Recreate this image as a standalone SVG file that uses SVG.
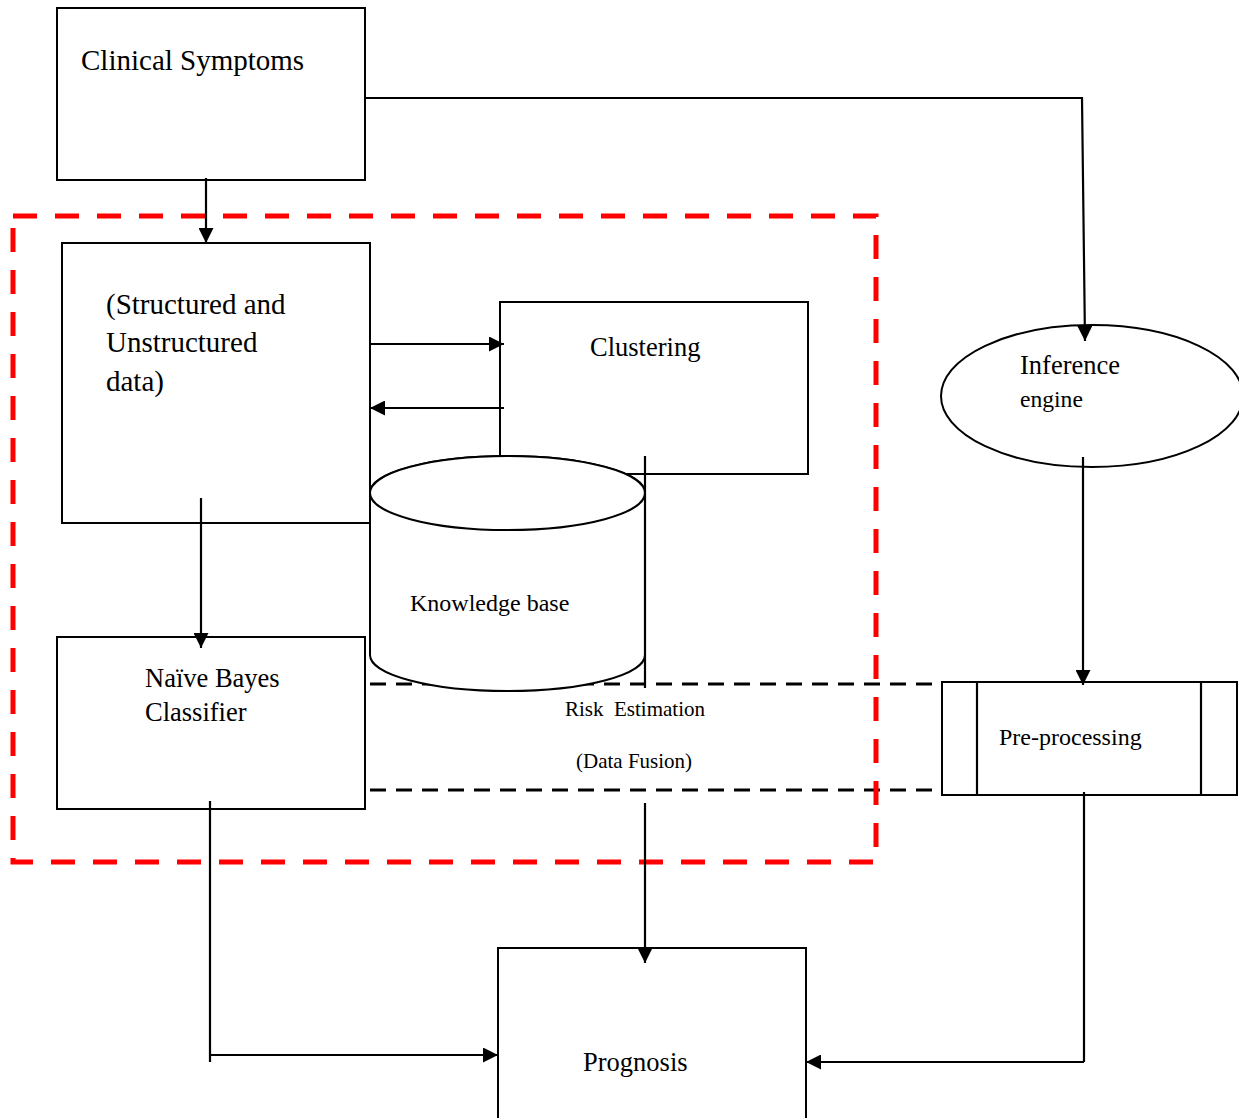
<svg xmlns="http://www.w3.org/2000/svg" width="1239" height="1118" viewBox="0 0 1239 1118">
<style>
.box{fill:#fff;stroke:#000;stroke-width:2}
.ln{fill:none;stroke:#000;stroke-width:2.2}
.t{font-family:"Liberation Serif","Times New Roman",serif;fill:#000;white-space:pre}
.red{fill:none;stroke:#ff0000;stroke-width:5;stroke-dasharray:24 18}
.bd{fill:none;stroke:#000;stroke-width:3;stroke-dasharray:16 10}
</style>
<defs>
<marker id="ah" viewBox="0 0 10 10" refX="10" refY="5" markerWidth="15" markerHeight="15" markerUnits="userSpaceOnUse" orient="auto">
<path d="M0,0 L10,5 L0,10 z" fill="#000"/>
</marker>
</defs>
<rect width="1239" height="1118" fill="#fff"/>

<g id="risk-estimation">
<line class="bd" x1="370" y1="684" x2="942" y2="684"/>
<line class="bd" x1="370" y1="790" x2="942" y2="790"/>
<text class="t" x="565" y="716" font-size="21">Risk  Estimation</text>
<text class="t" x="576" y="768" font-size="21">(Data Fusion)</text>
</g>

<g id="clinical-symptoms">
<rect class="box" x="57" y="8" width="308" height="172"/>
<text class="t" x="81" y="70" font-size="29">Clinical Symptoms</text>
</g>

<g id="structured-data">
<rect class="box" x="62" y="243" width="308" height="280"/>
<text class="t" x="106" y="314" font-size="29">(Structured and</text>
<text class="t" x="106" y="352" font-size="29">Unstructured</text>
<text class="t" x="106" y="391" font-size="29">data)</text>
</g>

<g id="clustering">
<rect class="box" x="500" y="302" width="308" height="172"/>
<text class="t" x="590" y="356" font-size="26.5">Clustering</text>
</g>

<g id="knowledge-base">
<path class="box" d="M370,493 L370,655 A137.5,36 0 0 0 645,655 L645,493 A137.5,37 0 0 0 370,493 Z"/>
<ellipse class="box" cx="507.5" cy="493" rx="137.5" ry="37"/>
<text class="t" x="410" y="611" font-size="24">Knowledge base</text>
</g>

<g id="naive-bayes">
<rect class="box" x="57" y="637" width="308" height="172"/>
<text class="t" x="145" y="687" font-size="26.5">Naïve Bayes</text>
<text class="t" x="145" y="721" font-size="26.5">Classifier</text>
</g>

<g id="inference-engine">
<ellipse class="box" cx="1092" cy="396" rx="151" ry="71"/>
<text class="t" x="1020" y="374" font-size="26.5">Inference</text>
<text class="t" x="1020" y="407" font-size="23.6">engine</text>
</g>

<g id="pre-processing">
<rect class="box" x="942" y="682" width="295" height="113"/>
<line class="ln" x1="977" y1="682" x2="977" y2="795"/>
<line class="ln" x1="1201" y1="682" x2="1201" y2="795"/>
<text class="t" x="999" y="745" font-size="24">Pre-processing</text>
</g>

<g id="prognosis">
<rect class="box" x="498" y="948" width="308" height="180"/>
<text class="t" x="583" y="1071" font-size="26.5">Prognosis</text>
</g>

<g id="boundary">
<rect class="red" x="13" y="216" width="863" height="646"/>
</g>

<g id="connectors">
<line class="ln" x1="206" y1="178" x2="206" y2="243" marker-end="url(#ah)"/>
<line class="ln" x1="370" y1="344" x2="504" y2="344" marker-end="url(#ah)"/>
<line class="ln" x1="504" y1="408" x2="370" y2="408" marker-end="url(#ah)"/>
<line class="ln" x1="645" y1="456" x2="645" y2="688"/>
<line class="ln" x1="201" y1="498" x2="201" y2="648" marker-end="url(#ah)"/>
<line class="ln" x1="645" y1="803" x2="645" y2="963" marker-end="url(#ah)"/>
<polyline class="ln" points="210,801 210,1062"/>
<line class="ln" x1="209" y1="1055" x2="498" y2="1055" marker-end="url(#ah)"/>
<polyline class="ln" points="365,98 1082,98 1085,341" marker-end="url(#ah)"/>
<line class="ln" x1="1083" y1="457" x2="1083" y2="685" marker-end="url(#ah)"/>
<line class="ln" x1="1084" y1="792" x2="1084" y2="1062"/>
<line class="ln" x1="1084" y1="1062" x2="806" y2="1062" marker-end="url(#ah)"/>
</g>
</svg>
